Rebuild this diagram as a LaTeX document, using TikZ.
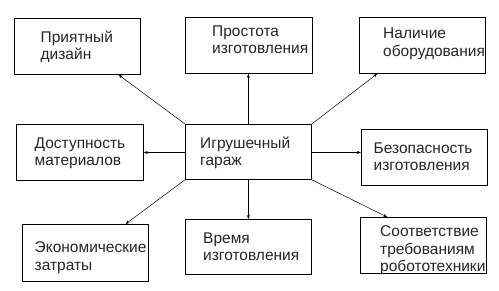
\documentclass[tikz,border=0pt]{standalone}
\usepackage{fontspec}
\setmainfont{Liberation Sans}
\usetikzlibrary{calc,arrows.meta}
\begin{document}
\begin{tikzpicture}[x=1pt,y=-1pt,
  box/.style={draw=black,line width=0.8pt,inner sep=0pt,anchor=north west},
  txt/.style={anchor=base west,inner sep=0pt,align=left,text=black!85,font=\fontsize{15.5}{17.8}\selectfont},
  arr/.style={draw=black,line width=0.5pt,-{Stealth[length=4pt,width=3pt]}}]
\useasboundingbox[fill=white] (0,0) rectangle (499,290);
% boxes
\node[box,minimum width=126pt,minimum height=56pt] (A) at (14,18) {};
\node[box,minimum width=127pt,minimum height=56pt] (B) at (185,17) {};
\node[box,minimum width=126pt,minimum height=56pt] (C) at (359,17) {};
\node[box,minimum width=127pt,minimum height=56pt] (D) at (16,124) {};
\node[box,minimum width=126pt,minimum height=55pt] (E) at (185,124) {};
\node[box,minimum width=126pt,minimum height=56pt] (F) at (361,129) {};
\node[box,minimum width=126pt,minimum height=57pt] (G) at (22,224) {};
\node[box,minimum width=126pt,minimum height=55pt] (H) at (185,219) {};
\node[box,minimum width=126pt,minimum height=56pt] (I) at (360,217) {};
% texts (anchored at the baseline of the last line)
\node[txt] (tA) at (40.5,59.8) {Приятный\\дизайн};
\node[txt] (tB) at (212,53.8) {Простота\\изготовления};
\node[txt] (tC) at (383,56.3) {Наличие\\оборудования};
\node[txt] (tD) at (34.5,165.8) {Доступность\\материалов};
\node[txt] (tE) at (200,165.8) {Игрушечный\\гараж};
\node[txt] (tF) at (373.5,170.8) {Безопасность\\изготовления};
\node[txt] (tG) at (34.5,270.3) {Экономические\\затраты};
\node[txt] (tH) at (203,260.8) {Время\\изготовления};
\node[txt] (tI) at (380,271.9) {Соответствие\\требованиям\\робототехники};
% connectors
\draw[arr] (E.north west) -- ($(A.south west)!0.825!(A.south east)$);
\draw[arr] (E.north) -- (E.north |- B.south);
\draw[arr] (E.north east) -- ($(C.south west)!0.143!(C.south east)$);
\draw[arr] ($(E.north west)!0.51!(E.south west)$) coordinate (el) -- (el -| D.east);
\draw[arr] ($(E.north east)!0.51!(E.south east)$) coordinate (er) -- (er -| F.west);
\draw[arr] (E.south west) -- ($(G.north west)!0.817!(G.north east)$);
\draw[arr] (E.south) -- (E.south |- H.north);
\draw[arr] (E.south east) -- ($(I.north west)!0.214!(I.north east)$);
\end{tikzpicture}
\end{document}
